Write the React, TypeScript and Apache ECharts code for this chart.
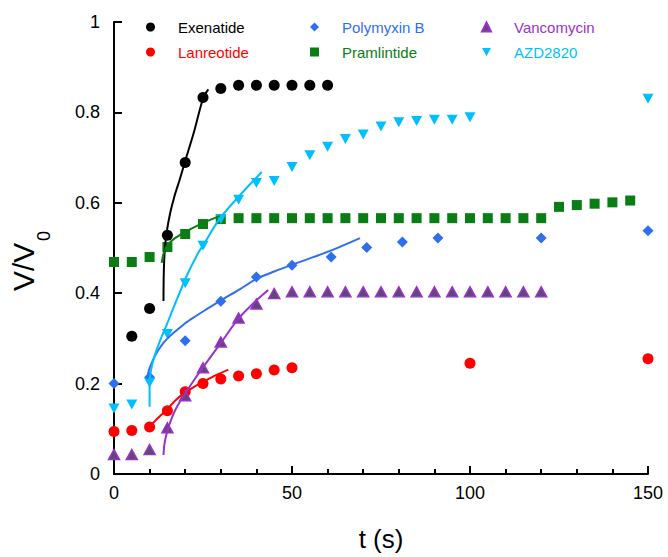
import React, { useEffect, useRef } from "react";
import * as echarts from "echarts";

const FONT = "'Liberation Sans', Arial, Helvetica, sans-serif";

// ---- Data ----
const exenatideX = [5, 10, 15, 20, 25, 30, 35, 40, 45, 50, 55, 60];
const exenatideY = [0.305, 0.366, 0.528, 0.689, 0.833, 0.853, 0.86, 0.86, 0.86, 0.86, 0.86, 0.86];

const lanreotideX = [0, 5, 10, 15, 20, 25, 30, 35, 40, 45, 50, 100, 150];
const lanreotideY = [0.094, 0.096, 0.104, 0.14, 0.182, 0.2, 0.21, 0.217, 0.222, 0.23, 0.235, 0.245, 0.255];

const polymyxinX = [0, 10, 20, 30, 40, 50, 61, 71, 81, 91, 120, 150];
const polymyxinY = [0.2, 0.214, 0.295, 0.382, 0.436, 0.462, 0.48, 0.501, 0.513, 0.522, 0.522, 0.538];

const pramlintideX = [0, 5, 10, 15, 20, 25, 30, 35, 40, 45, 50, 55, 60, 65, 70, 75, 80, 85, 90, 95, 100, 105, 110, 115, 120, 125, 130, 135, 140, 145];
const pramlintideY = [0.469, 0.469, 0.48, 0.502, 0.531, 0.553, 0.564, 0.566, 0.566, 0.566, 0.566, 0.566, 0.566, 0.566, 0.566, 0.566, 0.566, 0.566, 0.566, 0.566, 0.566, 0.566, 0.566, 0.566, 0.566, 0.591, 0.595, 0.598, 0.601, 0.605];

const vancomycinX = [0, 5, 10, 15, 20, 25, 30, 35, 40, 45, 50, 55, 60, 65, 70, 75, 80, 85, 90, 95, 100, 105, 110, 115, 120];
const vancomycinY = [0.043, 0.043, 0.054, 0.102, 0.173, 0.235, 0.292, 0.345, 0.376, 0.399, 0.403, 0.403, 0.403, 0.403, 0.403, 0.403, 0.403, 0.403, 0.403, 0.403, 0.403, 0.403, 0.403, 0.403, 0.403];

const azdX = [0, 5, 10, 15, 20, 25, 30, 35, 40, 45, 50, 55, 60, 65, 70, 75, 80, 85, 90, 95, 100, 150];
const azdY = [0.145, 0.154, 0.202, 0.31, 0.422, 0.505, 0.564, 0.607, 0.644, 0.648, 0.679, 0.705, 0.724, 0.741, 0.751, 0.769, 0.778, 0.781, 0.784, 0.784, 0.789, 0.83];

// fitted curves
const exenatideFitX = [13.9, 14.0, 14.3, 14.8, 15.8, 17.0, 18.4, 19.9, 22.3, 25.1, 26.5];
const exenatideFitY = [0.383, 0.45, 0.5, 0.535, 0.578, 0.615, 0.65, 0.69, 0.752, 0.833, 0.851];

const lanreotideFitX = [9.5, 12, 14.8, 17.3, 19.9, 22.5, 25.1, 28.5, 32.1];
const lanreotideFitY = [0.1, 0.121, 0.142, 0.163, 0.18, 0.193, 0.204, 0.218, 0.231];

const polymyxinFitX = [9.3, 9.9, 11.0, 12.3, 13.9, 15.7, 17.6, 19.9, 22.3, 25.9, 29.8, 35.4, 40.1, 45, 50.4, 60.5, 69.1];
const polymyxinFitY = [0.21, 0.232, 0.253, 0.272, 0.29, 0.305, 0.318, 0.333, 0.346, 0.364, 0.383, 0.409, 0.432, 0.448, 0.464, 0.493, 0.522];

const pramlintideFitX = [13.4, 13.9, 14.8, 16.5, 19.9, 24.6, 29.8];
const pramlintideFitY = [0.467, 0.487, 0.504, 0.518, 0.535, 0.554, 0.571];

const vancomycinFitX = [13.9, 14.1, 14.5, 15.1, 15.9, 17.1, 18.5, 19.9, 22.5, 25.1, 30.2, 34.9, 39.6, 43.3];
const vancomycinFitY = [0.042, 0.062, 0.08, 0.098, 0.117, 0.14, 0.16, 0.177, 0.208, 0.237, 0.292, 0.343, 0.381, 0.407];

const azdFitX = [10.0, 10.0, 10.3, 10.9, 12, 13.3, 14.8, 16.2, 17.6, 20.4, 23.7, 25.1, 29.8, 35.4, 41.5];
const azdFitY = [0.149, 0.2, 0.225, 0.248, 0.275, 0.302, 0.33, 0.358, 0.385, 0.438, 0.49, 0.507, 0.566, 0.617, 0.668];

const xTicks = { min: 0, max: 150, interval: 50 };
const yTicks = { min: 0, max: 1, interval: 0.2 };

const COLORS = {
  exenatide: "#000000",
  lanreotide: "#ff0000",
  polymyxin: "#2f6fef",
  pramlintide: "#0a7d14",
  vancomycin: "#9932cc",
  azd: "#00bfff",
};

const zip = (xs: number[], ys: number[]) => xs.map((x, i) => [x, ys[i]]);

const INV_TRI = "path://M0,0L10,0L5,8.66Z";

export default function App() {
  const ref = useRef<HTMLDivElement>(null);
  useEffect(() => {
    if (!ref.current) return;
    const chart = echarts.init(ref.current, undefined, { renderer: "svg" });

    const scatter = (name: string, xs: number[], ys: number[], symbol: string, size: any, color: string, extra: any = {}) => ({
      type: "scatter",
      name,
      data: zip(xs, ys),
      symbol,
      symbolSize: size,
      itemStyle: { color, opacity: 1, ...extra },
      z: 2,
    });
    const fit = (name: string, xs: number[], ys: number[], color: string) => ({
      type: "line",
      name,
      data: zip(xs, ys),
      showSymbol: false,
      symbol: "none",
      smooth: 0.3,
      lineStyle: { color, width: 2 },
      z: 3,
      silent: true,
    });

    const axisLine = { show: true, onZero: false, lineStyle: { color: "#000", width: 2 } };
    const legendBase = {
      orient: "vertical",
      top: 19,
      itemWidth: 9,
      itemHeight: 9,
      itemGap: 9,
      padding: 0,
      selectedMode: false,
      textStyle: { fontSize: 15, lineHeight: 16, padding: [0, 0, 0, 18], fontFamily: FONT },
    };

    chart.setOption({
      animation: false,
      backgroundColor: "#fff",
      textStyle: { fontFamily: FONT },
      grid: { left: 114, right: 20, top: 22, bottom: 79, containLabel: false },
      xAxis: {
        type: "value",
        ...xTicks,
        axisLine,
        axisTick: { show: true, inside: true, length: 8, lineStyle: { color: "#000", width: 2 } },
        minorTick: { show: true, splitNumber: 5, length: 5, lineStyle: { color: "#000", width: 2 } },
        axisLabel: { fontSize: 18, color: "#000", margin: 10, fontFamily: FONT },
        splitLine: { show: false },
        name: "t (s)",
        nameLocation: "middle",
        nameGap: 52,
        nameTextStyle: { fontSize: 26, color: "#000", fontFamily: FONT },
      },
      yAxis: {
        type: "value",
        ...yTicks,
        axisLine,
        axisTick: { show: true, inside: true, length: 8, lineStyle: { color: "#000", width: 2 } },
        axisLabel: { fontSize: 18, color: "#000", margin: 14, fontFamily: FONT },
        splitLine: { show: false },
      },
      legend: [
        {
          ...legendBase,
          left: 146,
          data: [
            { name: "Exenatide", textStyle: { color: COLORS.exenatide } },
            { name: "Lanreotide", textStyle: { color: COLORS.lanreotide } },
          ],
        },
        {
          ...legendBase,
          left: 310,
          data: [
            { name: "Polymyxin B", textStyle: { color: COLORS.polymyxin } },
            { name: "Pramlintide", textStyle: { color: COLORS.pramlintide } },
          ],
        },
        {
          ...legendBase,
          left: 481,
          data: [
            { name: "Vancomycin", textStyle: { color: COLORS.vancomycin } },
            { name: "AZD2820", textStyle: { color: COLORS.azd } },
          ],
        },
      ],
      graphic: [
        {
          type: "group",
          x: 23,
          y: 291,
          rotation: Math.PI / 2,
          children: [
            {
              type: "text",
              x: 0,
              y: 0,
              style: { text: "V/V", fontSize: 30, fill: "#000", align: "left", verticalAlign: "middle", fontFamily: FONT },
            },
            {
              type: "text",
              x: 50,
              y: 21,
              style: { text: "0", fontSize: 18, fill: "#000", align: "left", verticalAlign: "middle", fontFamily: FONT },
            },
          ],
        },
      ],
      series: [
        scatter("Exenatide", exenatideX, exenatideY, "circle", 11, COLORS.exenatide),
        scatter("Lanreotide", lanreotideX, lanreotideY, "circle", 11, COLORS.lanreotide),
        scatter("Polymyxin B", polymyxinX, polymyxinY, "diamond", 11, COLORS.polymyxin),
        scatter("Pramlintide", pramlintideX, pramlintideY, "rect", 10, COLORS.pramlintide),
        scatter("Vancomycin", vancomycinX, vancomycinY, "triangle", [11, 10], "#5e4a6e", { borderColor: COLORS.vancomycin, borderWidth: 1.5 }),
        scatter("AZD2820", azdX, azdY, INV_TRI, [11, 10], COLORS.azd),
        fit("Exenatide fit", exenatideFitX, exenatideFitY, COLORS.exenatide),
        fit("Lanreotide fit", lanreotideFitX, lanreotideFitY, COLORS.lanreotide),
        fit("Polymyxin B fit", polymyxinFitX, polymyxinFitY, COLORS.polymyxin),
        fit("Pramlintide fit", pramlintideFitX, pramlintideFitY, COLORS.pramlintide),
        fit("Vancomycin fit", vancomycinFitX, vancomycinFitY, COLORS.vancomycin),
        fit("AZD2820 fit", azdFitX, azdFitY, COLORS.azd),
      ],
    });
    return () => chart.dispose();
  }, []);
  return <div ref={ref} style={{ width: 668, height: 557, position: "absolute", left: 0, top: 0 }} />;
}
